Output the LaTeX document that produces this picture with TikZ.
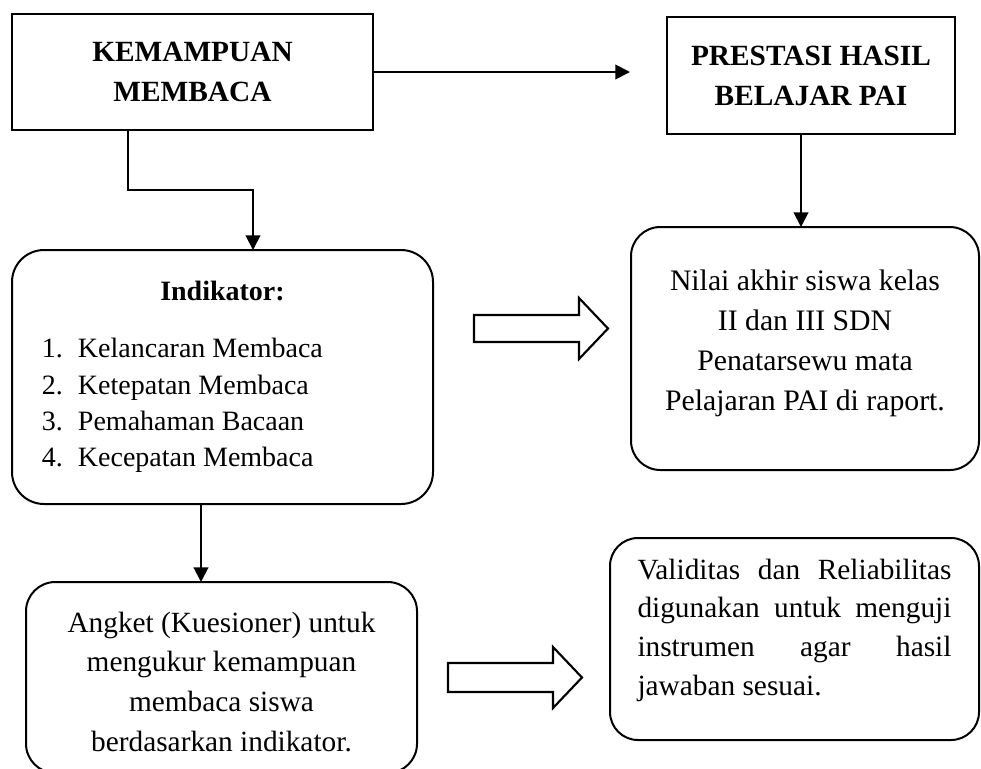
\documentclass[tikz,border=0pt]{standalone}
\usepackage{fontspec}
\setmainfont{Liberation Serif}
\usetikzlibrary{arrows.meta}
\newcommand{\listitem}[2]{\makebox[315.75pt][l]{\hspace*{22.5pt}\makebox[27pt][l]{#1}#2}}
\begin{document}
\begin{tikzpicture}[x=0.75pt,y=-0.75pt,
  box/.style={draw, line width=1.5pt, inner sep=0pt, outer sep=0pt, align=center},
  rbox/.style={box, rounded corners=22pt},
  title/.style={font=\fontsize{22}{30}\selectfont\bfseries},
  body/.style={font=\fontsize{22.3}{30}\selectfont},
  arr/.style={line width=1.5pt, -{Triangle[length=11pt,width=11pt]}},
  blockarrow/.style={draw, line width=1.6pt, line join=miter, fill=white}]
\path[use as bounding box, clip] (0,0) rectangle (981,768);

% top boxes
\node[box, title, minimum width=270.75pt, minimum height=87pt] (b1) at (192.5,72) {KEMAMPUAN\\MEMBACA};
\node[box, title, minimum width=216pt, minimum height=87.75pt] (b2) at (811,75.5) {PRESTASI HASIL\\BELAJAR PAI};

% indicator box
\node[rbox, rounded corners=24pt, minimum width=315.75pt, minimum height=190.5pt,
      font=\fontsize{21}{27.2}\selectfont] (b3) at (222.5,377)
  {\makebox[315.75pt][c]{\bfseries Indikator:}\\[15.5pt]
   \listitem{1.}{Kelancaran Membaca}\\
   \listitem{2.}{Ketepatan Membaca}\\
   \listitem{3.}{Pemahaman Bacaan}\\
   \listitem{4.}{Kecepatan Membaca}};

% result box
\node[rbox, body, minimum width=261pt, minimum height=182.25pt] (b4) at (805,348.5)
  {Nilai akhir siswa kelas\\II dan III SDN\\Penatarsewu mata\\Pelajaran PAI di raport.\rule[-13pt]{0pt}{13pt}};

% questionnaire box
\node[rbox, font=\fontsize{22}{29.8}\selectfont, minimum width=293.25pt, minimum height=143.25pt] (b5) at (221.5,677.5)
  {\rule{0pt}{21.5pt}Angket (Kuesioner) untuk\\mengukur kemampuan\\membaca siswa\\berdasarkan indikator.};

% validity box
\node[rbox, rounded corners=21pt, font=\fontsize{22}{29}\selectfont, minimum width=276.75pt, minimum height=151.5pt] (b6) at (794.5,639)
  {\makebox[235.5pt][s]{Validitas dan Reliabilitas}\\
   \makebox[235.5pt][s]{digunakan untuk menguji}\\
   \makebox[235.5pt][s]{instrumen agar hasil}\\
   \makebox[235.5pt][l]{jawaban sesuai.}\rule[-18pt]{0pt}{18pt}};

% connectors
\coordinate (t1) at (630,72);
\coordinate (k1) at (128,190);
\coordinate (k2) at (253,190);
\coordinate (k3) at (801,0);
\coordinate (k4) at (201,0);
\draw[arr] (b1.east |- t1) -- (t1);
\draw[arr] (b1.south -| k1) -- (k1) -- (k2) -- (b3.north -| k2);
\draw[arr] (b2.south -| k3) -- (b4.north -| k3);
\draw[arr] (b3.south -| k4) -- (b5.north -| k4);

% block arrows
\draw[blockarrow] (474,315) -- (579,315) -- (579,298) -- (608,328.5) -- (579,359) -- (579,342) -- (474,342) -- cycle;
\draw[blockarrow] (448,663) -- (553,663) -- (553,647) -- (582,677.5) -- (553,708) -- (553,692) -- (448,692) -- cycle;
\end{tikzpicture}
\end{document}
